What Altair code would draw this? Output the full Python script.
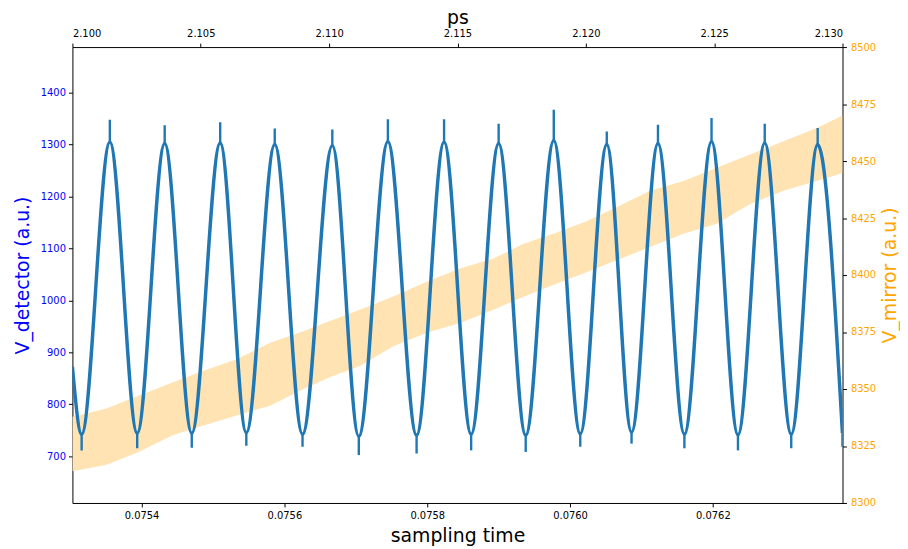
import altair as alt
import pandas as pd

# ---------------- data ----------------
start_t = 0.0753032
start_v = 872

trough_t = [0.0753161, 0.0753939, 0.0754703, 0.0755467, 0.0756254, 0.0757042, 0.0757851,
            0.0758615, 0.0759379, 0.0760143, 0.0760861, 0.0761601, 0.0762351, 0.0763097, 0.0763814]
trough_body = [742, 744, 744, 745, 742, 738, 740, 742, 740, 743, 746, 742, 741, 742, 744]
trough_tip = [711, 715, 716, 720, 718, 702, 705, 711, 708, 718, 724, 715, 711, 715, 718]

peak_t = [0.0753556, 0.0754324, 0.0755101, 0.0755865, 0.0756671, 0.0757449, 0.0758236,
          0.0759000, 0.0759772, 0.0760514, 0.0761231, 0.0761981, 0.0762726, 0.0763467]
peak_body = [1305, 1302, 1303, 1300, 1298, 1306, 1305, 1302, 1308, 1300, 1302, 1306, 1303, 1300]
peak_tip = [1348, 1337, 1343, 1331, 1329, 1349, 1349, 1340, 1367, 1325, 1338, 1351, 1340, 1332]

mirror_ps = [2.1000, 2.1013, 2.1026, 2.1039, 2.1051, 2.1064, 2.1077, 2.1090, 2.1100,
             2.1112, 2.1125, 2.1138, 2.1151, 2.1164, 2.1176, 2.1189, 2.1200, 2.1212,
             2.1225, 2.1238, 2.1251, 2.1264, 2.1277, 2.1290, 2.1300]
mirror_low = [8313.9, 8316.7, 8322.5, 8329.7, 8334.0, 8338.4, 8342.7, 8350.0, 8355.1,
              8360.1, 8368.8, 8374.7, 8379.0, 8384.8, 8390.6, 8396.4, 8401.1, 8406.5,
              8412.3, 8418.1, 8422.5, 8431.2, 8437.0, 8441.3, 8444.8]
mirror_high = [8337.8, 8341.3, 8347.1, 8352.9, 8358.0, 8363.0, 8370.3, 8375.3, 8379.7,
               8384.8, 8390.6, 8397.1, 8402.9, 8407.3, 8413.8, 8418.8, 8423.5, 8429.7,
               8437.0, 8441.3, 8447.1, 8452.9, 8458.7, 8464.5, 8470.0]

bottom_ticks = [0.0754, 0.0756, 0.0758, 0.0760, 0.0762]
top_ticks = [2.100, 2.105, 2.110, 2.115, 2.120, 2.125, 2.130]
left_ticks = [700, 800, 900, 1000, 1100, 1200, 1300, 1400]
right_ticks = [8300, 8325, 8350, 8375, 8400, 8425, 8450, 8475, 8500]

# ---------------- build tables ----------------
rows = [(start_t, start_v)]
rows += list(zip(trough_t, trough_body))
rows += list(zip(peak_t, peak_body))
rows.sort()
det = pd.DataFrame(rows, columns=["t", "v"])

spikes = pd.DataFrame({
    "t": trough_t + peak_t,
    "v": trough_body + peak_body,
    "tip": trough_tip + peak_tip,
})

mir = pd.DataFrame({"ps": mirror_ps, "low": mirror_low, "high": mirror_high})

FONT = "DejaVu Sans"
BLUE = "#1f77b4"

x_ps = alt.Scale(domain=[2.100, 2.130], nice=False, zero=False)
y_mir = alt.Scale(domain=[8300, 8500], nice=False, zero=False)
x_t = alt.Scale(domain=[0.0753032, 0.0763815], nice=False, zero=False)
y_det = alt.Scale(domain=[609.7, 1487.8], nice=False, zero=False)

x_t_axis = alt.Axis(orient="bottom", title="sampling time", values=bottom_ticks,
                    format=".4f", labelColor="black", titleColor="black",
                    labelPadding=4, titlePadding=6)
y_det_axis = alt.Axis(orient="left", title="V_detector (a.u.)", values=left_ticks,
                      format="d", labelColor="#0000FF", titleColor="#0000FF", titlePadding=8)

band = alt.Chart(mir).mark_area(color="#FFE3B3", opacity=1, clip=True).encode(
    x=alt.X("ps:Q", scale=x_ps,
            axis=alt.Axis(orient="top", title="ps", values=top_ticks, format=".3f",
                          labelColor="black", titleColor="black",
                          labelPadding=5, titlePadding=1)),
    y=alt.Y("low:Q", scale=y_mir,
            axis=alt.Axis(orient="right", title="V_mirror (a.u.)", values=right_ticks,
                          format="d", labelColor="#FFA500", titleColor="#FFA500",
                          labelPadding=4, titleAngle=270, titleBaseline="top",
                          titlePadding=5)),
    y2="high:Q",
)

line = alt.Chart(det).mark_line(color=BLUE, strokeWidth=3.5, interpolate="monotone",
                                clip=True).encode(
    x=alt.X("t:Q", scale=x_t, axis=x_t_axis),
    y=alt.Y("v:Q", scale=y_det, axis=y_det_axis),
)

tips = alt.Chart(spikes).mark_rule(color=BLUE, strokeWidth=2.4, clip=True).encode(
    x=alt.X("t:Q", scale=x_t, axis=x_t_axis),
    y=alt.Y("v:Q", scale=y_det, axis=y_det_axis),
    y2="tip:Q",
)

chart = alt.layer(
    band, alt.layer(line, tips)
).resolve_scale(
    x="independent", y="independent"
).properties(
    width=777, height=460,
    autosize=alt.AutoSizeParams(type="none"),
    padding={"left": 65, "top": 37, "right": 58, "bottom": 43},
).configure_view(strokeWidth=0).configure_axis(
    grid=False, domainColor="black", tickColor="black", tickSize=4,
    labelFont=FONT, titleFont=FONT, labelFontSize=10, titleFontSize=19,
    titleFontWeight="normal", labelPadding=3,
)

chart.save("out.html", embed_options={"renderer": "svg", "actions": False})
